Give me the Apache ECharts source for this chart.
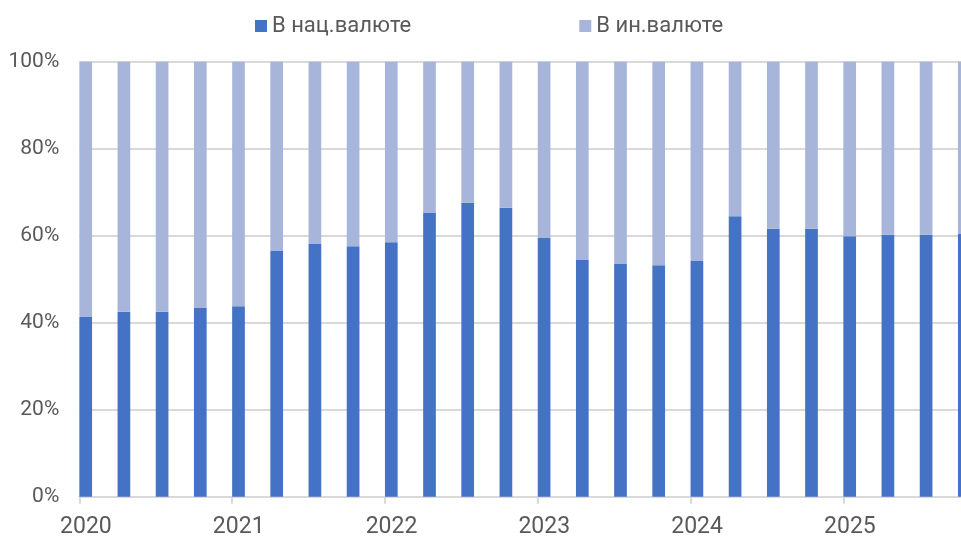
<!DOCTYPE html>
<html>
<head>
<meta charset="utf-8">
<script src="https://cdn.jsdelivr.net/npm/echarts@6/dist/echarts.min.js"></script>
<style>
  html, body { margin: 0; padding: 0; background: #fff; }
  #chart { width: 961px; height: 538px; }
</style>
</head>
<body>
<div id="chart"></div>
<script>
// quarterly shares, 2020 Q1 .. 2025 Q4
const quarters = [
  '2020 Q1', '2020 Q2', '2020 Q3', '2020 Q4',
  '2021 Q1', '2021 Q2', '2021 Q3', '2021 Q4',
  '2022 Q1', '2022 Q2', '2022 Q3', '2022 Q4',
  '2023 Q1', '2023 Q2', '2023 Q3', '2023 Q4',
  '2024 Q1', '2024 Q2', '2024 Q3', '2024 Q4',
  '2025 Q1', '2025 Q2', '2025 Q3', '2025 Q4',
]
const nationalShare = [
  41.3, 42.5, 42.5, 43.4, 43.8, 56.5, 58.1, 57.6,
  58.5, 65.2, 67.6, 66.4, 59.5, 54.4, 53.5, 53.2,
  54.2, 64.5, 61.6, 61.6, 59.9, 60.2, 60.2, 60.4,
]
const foreignShare = [
  58.7, 57.5, 57.5, 56.6, 56.2, 43.5, 41.9, 42.4,
  41.5, 34.8, 32.4, 33.6, 40.5, 45.6, 46.5, 46.8,
  45.8, 35.5, 38.4, 38.4, 40.1, 39.8, 39.8, 39.6,
]
const yTicks = { min: 0, max: 100, interval: 20 }

const textColor = '#595959'
const gridColor = '#d9d9d9'
const darkBlue = '#4472C4'
const lightBlue = '#A8B5DB'

const chart = echarts.init(document.getElementById('chart'), null, { renderer: 'canvas' })

chart.setOption({
  animation: false,
  textStyle: { fontFamily: 'Roboto' },
  legend: {
    data: ['В нац.валюте', 'В ин.валюте'],
    left: 250,
    top: 10,
    itemWidth: 12,
    itemHeight: 12,
    itemGap: 168,
    icon: 'rect',
    textStyle: { color: textColor, fontSize: 22, fontFamily: 'Roboto' },
  },
  // plot runs past the right edge of the picture, last quarter is cut off
  grid: { left: 79.3, width: 916.8, top: 61.7, bottom: 41.3, outerBoundsMode: 'none' },
  xAxis: {
    type: 'category',
    data: quarters,
    boundaryGap: true,
    axisLine: { lineStyle: { color: gridColor, width: 2 } },
    axisTick: { show: true, interval: 3, length: 7, lineStyle: { color: gridColor, width: 2 } },
    axisLabel: {
      interval: 3,
      color: textColor,
      fontSize: 23,
      margin: 19,
      padding: [0, 25, 0, 0],
      formatter: v => v.slice(0, 4),
    },
    splitLine: { show: false },
  },
  yAxis: {
    type: 'value',
    min: yTicks.min,
    max: yTicks.max,
    interval: yTicks.interval,
    axisLine: { show: false },
    axisTick: { show: false },
    axisLabel: { color: textColor, fontSize: 21, margin: 20, formatter: '{value}%' },
    splitLine: { lineStyle: { color: gridColor, width: 2 } },
  },
  series: [
    {
      name: 'В нац.валюте',
      type: 'bar',
      stack: 'share',
      data: nationalShare,
      barWidth: 12.7,
      barGap: '100%',
      itemStyle: { color: darkBlue },
    },
    {
      name: 'В ин.валюте',
      type: 'bar',
      stack: 'share',
      data: foreignShare,
      barWidth: 12.7,
      itemStyle: { color: lightBlue },
    },
    // empty spacer stack: pushes the real bars to the left side of each quarter slot
    {
      name: 'spacer',
      type: 'bar',
      stack: 'spacer',
      data: [],
      barWidth: 12.7,
      silent: true,
    },
  ],
})
</script>
</body>
</html>
